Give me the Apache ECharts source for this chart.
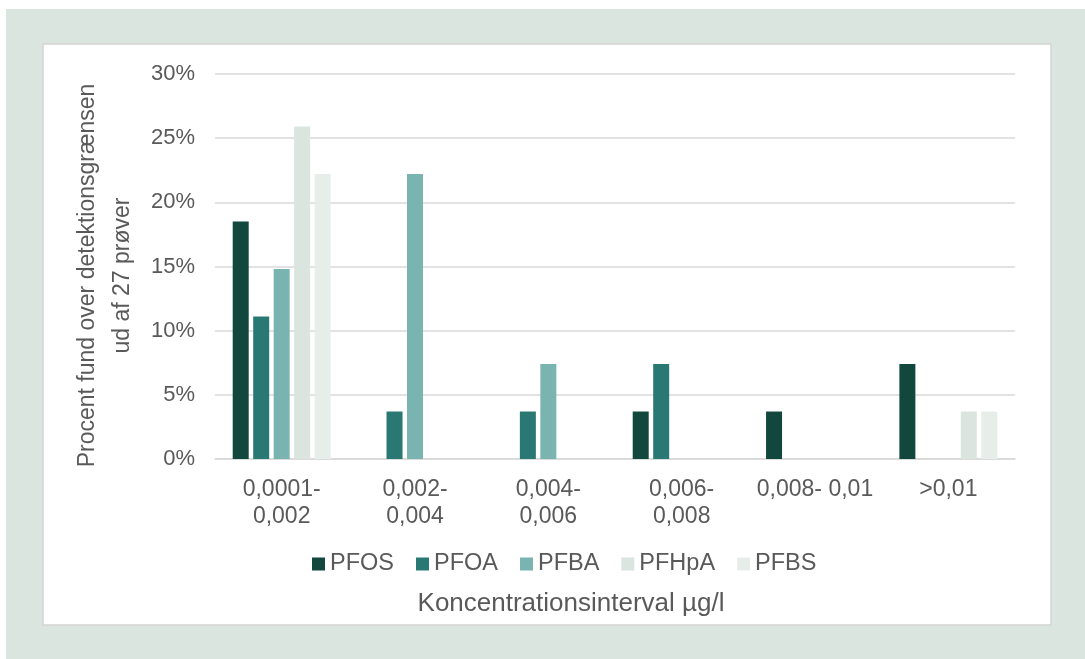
<!DOCTYPE html>
<html><head><meta charset="utf-8">
<script src="https://cdn.jsdelivr.net/npm/echarts@6/dist/echarts.min.js"></script>
<style>html,body{margin:0;padding:0;background:#fff}#c{width:1085px;height:659px}</style>
</head><body><div id="c"></div>
<script>
const categories = ['0,0001-\n0,002', '0,002-\n0,004', '0,004-\n0,006', '0,006-\n0,008', '0,008- 0,01', '>0,01'];
const PFOS  = [18.5, 0, 0, 3.7, 3.7, 7.4];
const PFOA  = [11.1, 3.7, 3.7, 7.4, 0, 0];
const PFBA  = [14.8, 22.2, 7.4, 0, 0, 0];
const PFHpA = [25.9, 0, 0, 0, 0, 3.7];
const PFBS  = [22.2, 0, 0, 0, 0, 3.7];
const yTicks = [0, 5, 10, 15, 20, 25, 30];

const seriesDefs = [
  ['PFOS', PFOS, '#12473e'],
  ['PFOA', PFOA, '#297874'],
  ['PFBA', PFBA, '#7ab4b0'],
  ['PFHpA', PFHpA, '#dae5df'],
  ['PFBS', PFBS, '#e7eeea']
];
const font = 'Liberation Sans, Arial, sans-serif';
const chart = echarts.init(document.getElementById('c'));
chart.setOption({
  animation: false,
  textStyle: {fontFamily: font},
  graphic: [
    {type: 'rect', z: -10, silent: true, shape: {x: 6, y: 9, width: 1079, height: 650}, style: {fill: '#dae5df'}},
    {type: 'rect', z: -9, silent: true, shape: {x: 43, y: 44, width: 1008, height: 581}, style: {fill: '#ffffff', stroke: '#d4d4d4', lineWidth: 1.5}}
  ],
  grid: {left: 215, right: 70, top: 74, bottom: 200},
  legend: {
    top: 547, left: 307, itemWidth: 13, itemHeight: 13, itemGap: 22, icon: 'rect',
    textStyle: {fontSize: 23.5, color: '#595959', fontFamily: font}
  },
  xAxis: {
    type: 'category', data: categories,
    name: 'Koncentrationsinterval µg/l', nameLocation: 'middle', nameGap: 132,
    nameTextStyle: {fontSize: 26, color: '#595959', fontFamily: font, padding: [0, 88, 0, 0]},
    axisLine: {lineStyle: {color: '#d9d9d9', width: 1.5}},
    axisTick: {show: false},
    axisLabel: {fontSize: 23, color: '#595959', lineHeight: 27, margin: 17, interval: 0, fontFamily: font}
  },
  yAxis: {
    type: 'value', min: yTicks[0], max: yTicks[yTicks.length - 1], interval: 5,
    name: 'Procent fund over detektionsgrænsen\nud af 27 prøver', nameLocation: 'middle', nameGap: 66, nameRotate: 90,
    nameTextStyle: {fontSize: 23, color: '#595959', lineHeight: 35, fontFamily: font, padding: [0, 18, 0, 0]},
    axisLine: {show: false}, axisTick: {show: false},
    axisLabel: {fontSize: 22, color: '#595959', margin: 20, formatter: v => v + '%', fontFamily: font},
    splitLine: {lineStyle: {color: '#d9d9d9', width: 1.5}}
  },
  series: seriesDefs.map(([name, data, color]) => ({
    name, type: 'bar', data, barWidth: 16, barGap: '28%',
    itemStyle: {color}
  }))
});
</script></body></html>
